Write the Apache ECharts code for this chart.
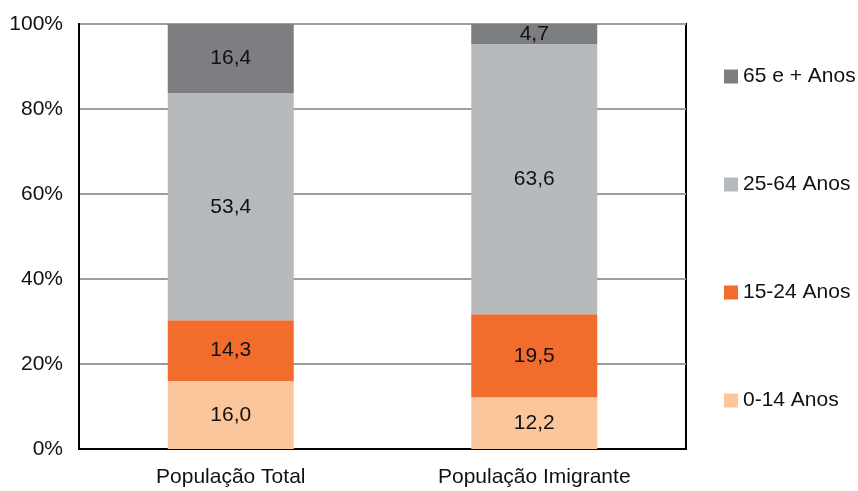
<!DOCTYPE html>
<html>
<head>
<meta charset="utf-8">
<script src="https://cdn.jsdelivr.net/npm/echarts@6/dist/echarts.min.js"></script>
<style>
  html, body { margin: 0; padding: 0; background: #fff; }
  #chart { width: 858px; height: 491px; }
</style>
</head>
<body>
<div id="chart"></div>
<script>
// dados
var categorias = ['População Total', 'População Imigrante'];
var grupos = ['0-14 Anos', '15-24 Anos', '25-64 Anos', '65 e + Anos'];
var v0_14 = [16.0, 12.2];
var v15_24 = [14.3, 19.5];
var v25_64 = [53.4, 63.6];
var v65 = [16.4, 4.7];
var yTicks = [0, 20, 40, 60, 80, 100];

var cores = ['#fbc69b', '#f26c2e', '#b7babc', '#7c7e81'];
var valores = [v0_14, v15_24, v25_64, v65];

var chart = echarts.init(document.getElementById('chart'));

var series = grupos.map(function (nome, i) {
    return {
        name: nome,
        type: 'bar',
        stack: 'total',
        barWidth: 126,
        data: valores[i],
        itemStyle: { color: cores[i] },
        label: {
            show: true,
            position: 'inside',
            fontSize: 21,
            color: '#111',
            formatter: function (p) {
                return p.value.toFixed(1).replace('.', ',');
            }
        }
    };
});

var option = {
    animation: false,
    textStyle: { fontFamily: 'Liberation Sans, Arial, sans-serif' },
    grid: {
        left: 79, right: 172, top: 24, bottom: 42,
        show: true, borderColor: '#000', borderWidth: 2
    },
    legend: {
        orient: 'vertical',
        left: 719,
        top: 61,
        itemWidth: 14,
        itemHeight: 14,
        itemGap: 87,
        icon: 'rect',
        data: grupos.slice().reverse(),
        textStyle: { fontSize: 21, color: '#111', lineHeight: 21 }
    },
    xAxis: {
        type: 'category',
        data: categorias,
        axisLine: { lineStyle: { color: '#000', width: 2 } },
        axisTick: { show: false },
        axisLabel: { fontSize: 21, color: '#111', margin: 18 }
    },
    yAxis: {
        type: 'value',
        min: yTicks[0],
        max: yTicks[yTicks.length - 1],
        interval: 20,
        axisLine: { show: true, lineStyle: { color: '#000', width: 2 } },
        axisTick: { show: false },
        splitLine: { lineStyle: { color: '#9b9d9f', width: 2 } },
        axisLabel: { fontSize: 21, color: '#111', margin: 16, formatter: '{value}%' }
    },
    series: series
};

chart.setOption(option);
</script>
</body>
</html>
